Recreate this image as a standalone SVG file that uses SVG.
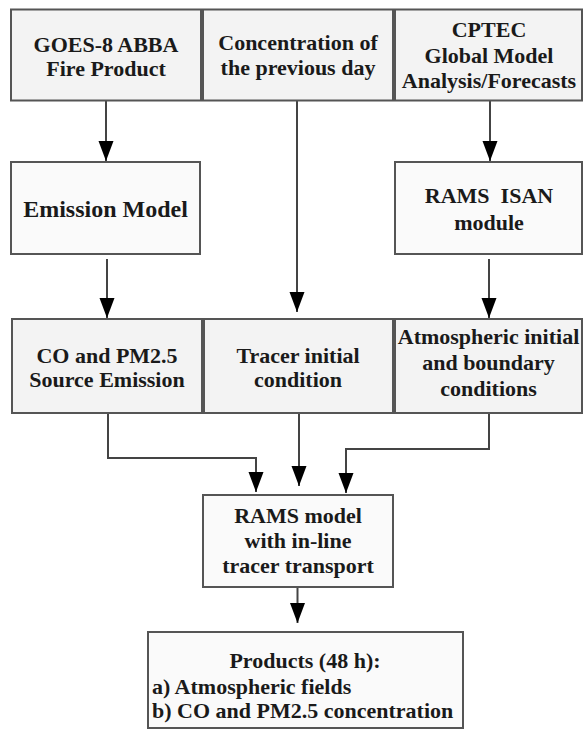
<svg xmlns="http://www.w3.org/2000/svg" width="583" height="730" viewBox="0 0 583 730">
<style>
.box{fill:#f3f3f3;stroke:#555;stroke-width:2}
.box2{fill:#fafafa;stroke:#555;stroke-width:2}
.t{font-family:"Liberation Serif","Times New Roman",serif;font-weight:bold;font-size:22px;fill:#1a1a1a;text-anchor:middle}
.l{text-anchor:start}
.c{fill:none;stroke:#444;stroke-width:2}
</style>
<defs>
<marker id="ah" markerUnits="userSpaceOnUse" markerWidth="20" markerHeight="16" refX="20" refY="8" orient="auto">
<path d="M0,0.5 L20,8 L0,15.5 z" fill="#000"/>
</marker>
</defs>
<rect width="583" height="730" fill="#fff"/>
<g id="connectors">
<line class="c" x1="106" y1="101" x2="106" y2="161" marker-end="url(#ah)"/>
<line class="c" x1="490" y1="101" x2="490" y2="161" marker-end="url(#ah)"/>
<line class="c" x1="297" y1="101" x2="297" y2="312" marker-end="url(#ah)"/>
<line class="c" x1="107" y1="259" x2="107" y2="318" marker-end="url(#ah)"/>
<line class="c" x1="489" y1="259" x2="489" y2="318" marker-end="url(#ah)"/>
<path class="c" d="M108,413 V458 H256 V492" marker-end="url(#ah)"/>
<line class="c" x1="299" y1="413" x2="299" y2="486" marker-end="url(#ah)"/>
<path class="c" d="M489,413 V449 H346 V493" marker-end="url(#ah)"/>
<line class="c" x1="297.5" y1="587" x2="297.5" y2="623" marker-end="url(#ah)"/>
</g>
<g id="goes">
<rect class="box" x="11" y="9.5" width="190" height="91"/>
<text class="t" x="106" y="52">GOES-8 ABBA</text>
<text class="t" x="106" y="76">Fire Product</text>
</g>
<g id="concentration">
<rect class="box" x="203" y="9.5" width="190" height="91"/>
<text class="t" x="298" y="50">Concentration of</text>
<text class="t" x="298" y="75">the previous day</text>
</g>
<g id="cptec">
<rect class="box" x="395" y="9.5" width="187" height="91"/>
<text class="t" x="489" y="37">CPTEC</text>
<text class="t" x="489" y="63">Global Model</text>
<text class="t" x="489" y="88">Analysis/Forecasts</text>
</g>
<g id="emission">
<rect class="box2" x="11" y="162" width="189" height="92"/>
<text class="t" x="105.5" y="217" font-size="24" style="font-size:24px">Emission Model</text>
</g>
<g id="isan">
<rect class="box2" x="395" y="162" width="187" height="92"/>
<text class="t" x="489" y="203" xml:space="preserve">RAMS  ISAN</text>
<text class="t" x="489" y="230">module</text>
</g>
<g id="source">
<rect class="box" x="12" y="319" width="190" height="94"/>
<text class="t" x="107" y="363">CO and PM2.5</text>
<text class="t" x="107" y="387">Source Emission</text>
</g>
<g id="tracer">
<rect class="box" x="204" y="319" width="189" height="94"/>
<text class="t" x="298" y="363">Tracer initial</text>
<text class="t" x="298" y="387">condition</text>
</g>
<g id="atmos">
<rect class="box" x="395" y="319" width="187" height="94"/>
<text class="t" x="488.5" y="344">Atmospheric initial</text>
<text class="t" x="488.5" y="370">and boundary</text>
<text class="t" x="488.5" y="396">conditions</text>
</g>
<g id="rams">
<rect class="box2" x="203" y="495" width="190" height="92"/>
<text class="t" x="298" y="523">RAMS model</text>
<text class="t" x="298" y="548">with in-line</text>
<text class="t" x="298" y="573">tracer transport</text>
</g>
<g id="products">
<rect class="box2" x="148" y="632" width="315" height="96"/>
<text class="t" x="305" y="668">Products (48 h):</text>
<text class="t l" x="152" y="694">a) Atmospheric fields</text>
<text class="t l" x="152" y="718">b) CO and PM2.5 concentration</text>
</g>
</svg>
